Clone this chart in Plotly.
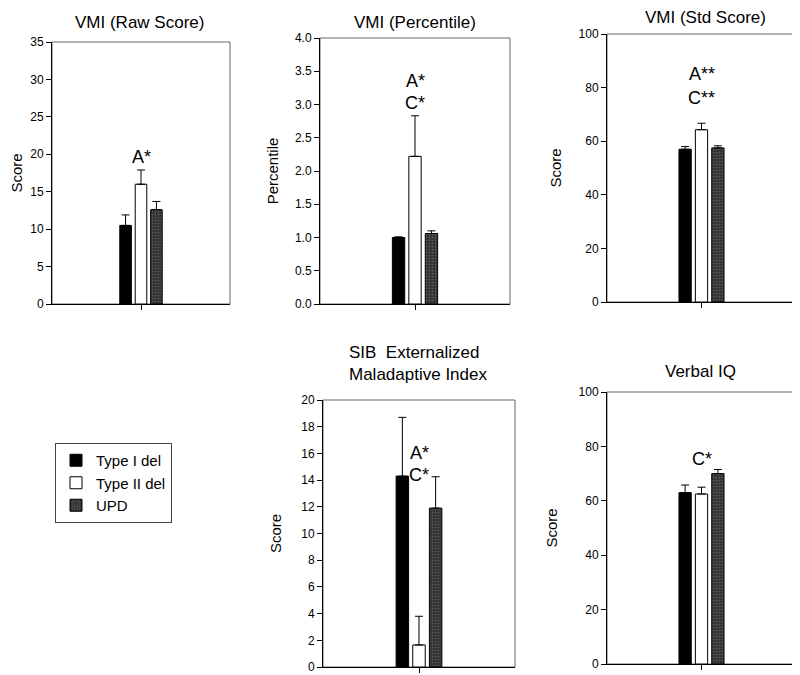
import plotly.graph_objects as go

# ---------------- data ----------------
groups = ["Type I del", "Type II del", "UPD"]
category = ["group"]

panel_titles = ["VMI (Raw Score)", "VMI (Percentile)", "VMI (Std Score)",
                "SIB  Externalized<br>Maladaptive Index", "Verbal IQ"]
y_titles = ["Score", "Percentile", "Score", "Score", "Score"]

raw_mean = [10.5, 16.0, 12.6]
raw_err = [1.4, 1.9, 1.1]
pct_mean = [1.0, 2.22, 1.06]
pct_err = [0.01, 0.61, 0.04]
std_mean = [57.0, 64.3, 57.5]
std_err = [1.0, 2.4, 0.8]
sib_mean = [14.3, 1.65, 11.9]
sib_err = [4.4, 2.15, 2.35]
viq_mean = [63.0, 62.5, 70.0]
viq_err = [2.8, 2.5, 1.5]

means = [raw_mean, pct_mean, std_mean, sib_mean, viq_mean]
errs = [raw_err, pct_err, std_err, sib_err, viq_err]

y_ranges = [[0, 35], [0, 4], [0, 100], [0, 20], [0, 100]]
y_dticks = [5, 0.5, 20, 2, 20]
y_formats = ["", ".1f", "", "", ""]

sig_labels = [["A*"], ["A*", "C*"], ["A**", "C**"], ["A*", "C*"], ["C*"]]
sig_y = [[19.6], [3.35, 3.03], [85.0, 76.0], [16.0, 14.4], [75.5]]

# ---------------- layout geometry (pixels of the target window) ----------------
OFF = 8                      # the page body adds an 8 px margin
W, H = 800 - OFF, 675 - OFF  # figure size so it fits the window
boxes = [  # x0, x1, ytop, ybottom in window pixels
    (52, 230, 42, 304),
    (320, 510, 38, 304),
    (607, 796, 34, 302),
    (323, 515, 400, 667),
    (607, 796, 392, 664),
]
title_pos = [(139, 23, "center"), (415, 23, "center"), (705, 18, "center"),
             (347, 363, "left"), (700, 372, "center")]
standoffs = [10, 12, 13, 15, 17]


def px(x):
    return (x - OFF) / W


def py(y):
    return 1 - (y - OFF) / H


FONT = "Liberation Sans, Arial, Helvetica, sans-serif"
bar_colors = ["#000000", "#ffffff", "#3a3a3a"]

fig = go.Figure()

for p in range(5):
    ax = "" if p == 0 else str(p + 1)
    for g in range(3):
        marker = dict(color=bar_colors[g], line=dict(color="black", width=1))
        if g == 2:
            marker["pattern"] = dict(shape=".", bgcolor="#333333", fgcolor="#8c8c8c",
                                     size=3, solidity=0.25)
        fig.add_trace(go.Bar(
            x=category, y=[means[p][g]],
            name=groups[g], legendgroup=groups[g], showlegend=(p == 0),
            marker=marker,
            error_y=dict(type="data", symmetric=False, array=[errs[p][g]],
                         arrayminus=[0], color="black", thickness=1, width=4),
            xaxis="x" + ax, yaxis="y" + ax,
        ))

    x0, x1, yt, yb = boxes[p]
    fig.layout["xaxis" + ax] = dict(
        domain=[px(x0), min(px(x1), 1.0)], anchor="y" + ax, type="category",
        range=[-0.5, 0.5], showticklabels=False, ticks="outside", ticklen=5,
        tickcolor="black", showline=True, linecolor="black", linewidth=1,
        showgrid=False, zeroline=False, fixedrange=True, automargin=False,
    )
    fig.layout["yaxis" + ax] = dict(
        domain=[py(yb), py(yt)], anchor="x" + ax,
        range=y_ranges[p], dtick=y_dticks[p], tick0=0, tickformat=y_formats[p],
        ticks="outside", ticklen=5, tickcolor="black", ticklabeloverflow="allow",
        showline=True, linecolor="black", linewidth=1,
        showgrid=False, zeroline=False, automargin=False,
        tickfont=dict(family=FONT, size=12, color="black"),
        title=dict(text=y_titles[p], font=dict(family=FONT, size=15, color="black"),
                   standoff=standoffs[p]),
    )
    fig.add_shape(type="rect", xref=("x" + ax) + " domain", yref=("y" + ax) + " domain",
                  x0=0, x1=1, y0=0, y1=1, line=dict(color="#666666", width=1),
                  layer="below")

    tx, ty, al = title_pos[p]
    fig.add_annotation(
        text=panel_titles[p], xref="paper", yref="paper",
        x=px(tx), y=py(ty), xanchor=al, yanchor="middle", align=al,
        showarrow=False, font=dict(family=FONT, size=17, color="black"),
    )

    for lab, yv in zip(sig_labels[p], sig_y[p]):
        fig.add_annotation(
            text=lab, x=category[0], y=yv, xref="x" + ax, yref="y" + ax,
            showarrow=False, xanchor="center", yanchor="middle",
            font=dict(family=FONT, size=18, color="black"),
        )

fig.update_layout(
    width=W, height=H,
    margin=dict(l=0, r=0, t=0, b=0, autoexpand=False),
    paper_bgcolor="white", plot_bgcolor="white",
    barmode="group", bargap=0.74, bargroupgap=0.25,
    showlegend=True,
    legend=dict(
        x=px(55), y=py(443), xanchor="left", yanchor="top",
        bordercolor="#444444", borderwidth=1, bgcolor="white",
        font=dict(family=FONT, size=15, color="black"),
        itemwidth=30, tracegroupgap=0,
    ),
    font=dict(family=FONT, color="black"),
)

fig.write_html("out.html")
